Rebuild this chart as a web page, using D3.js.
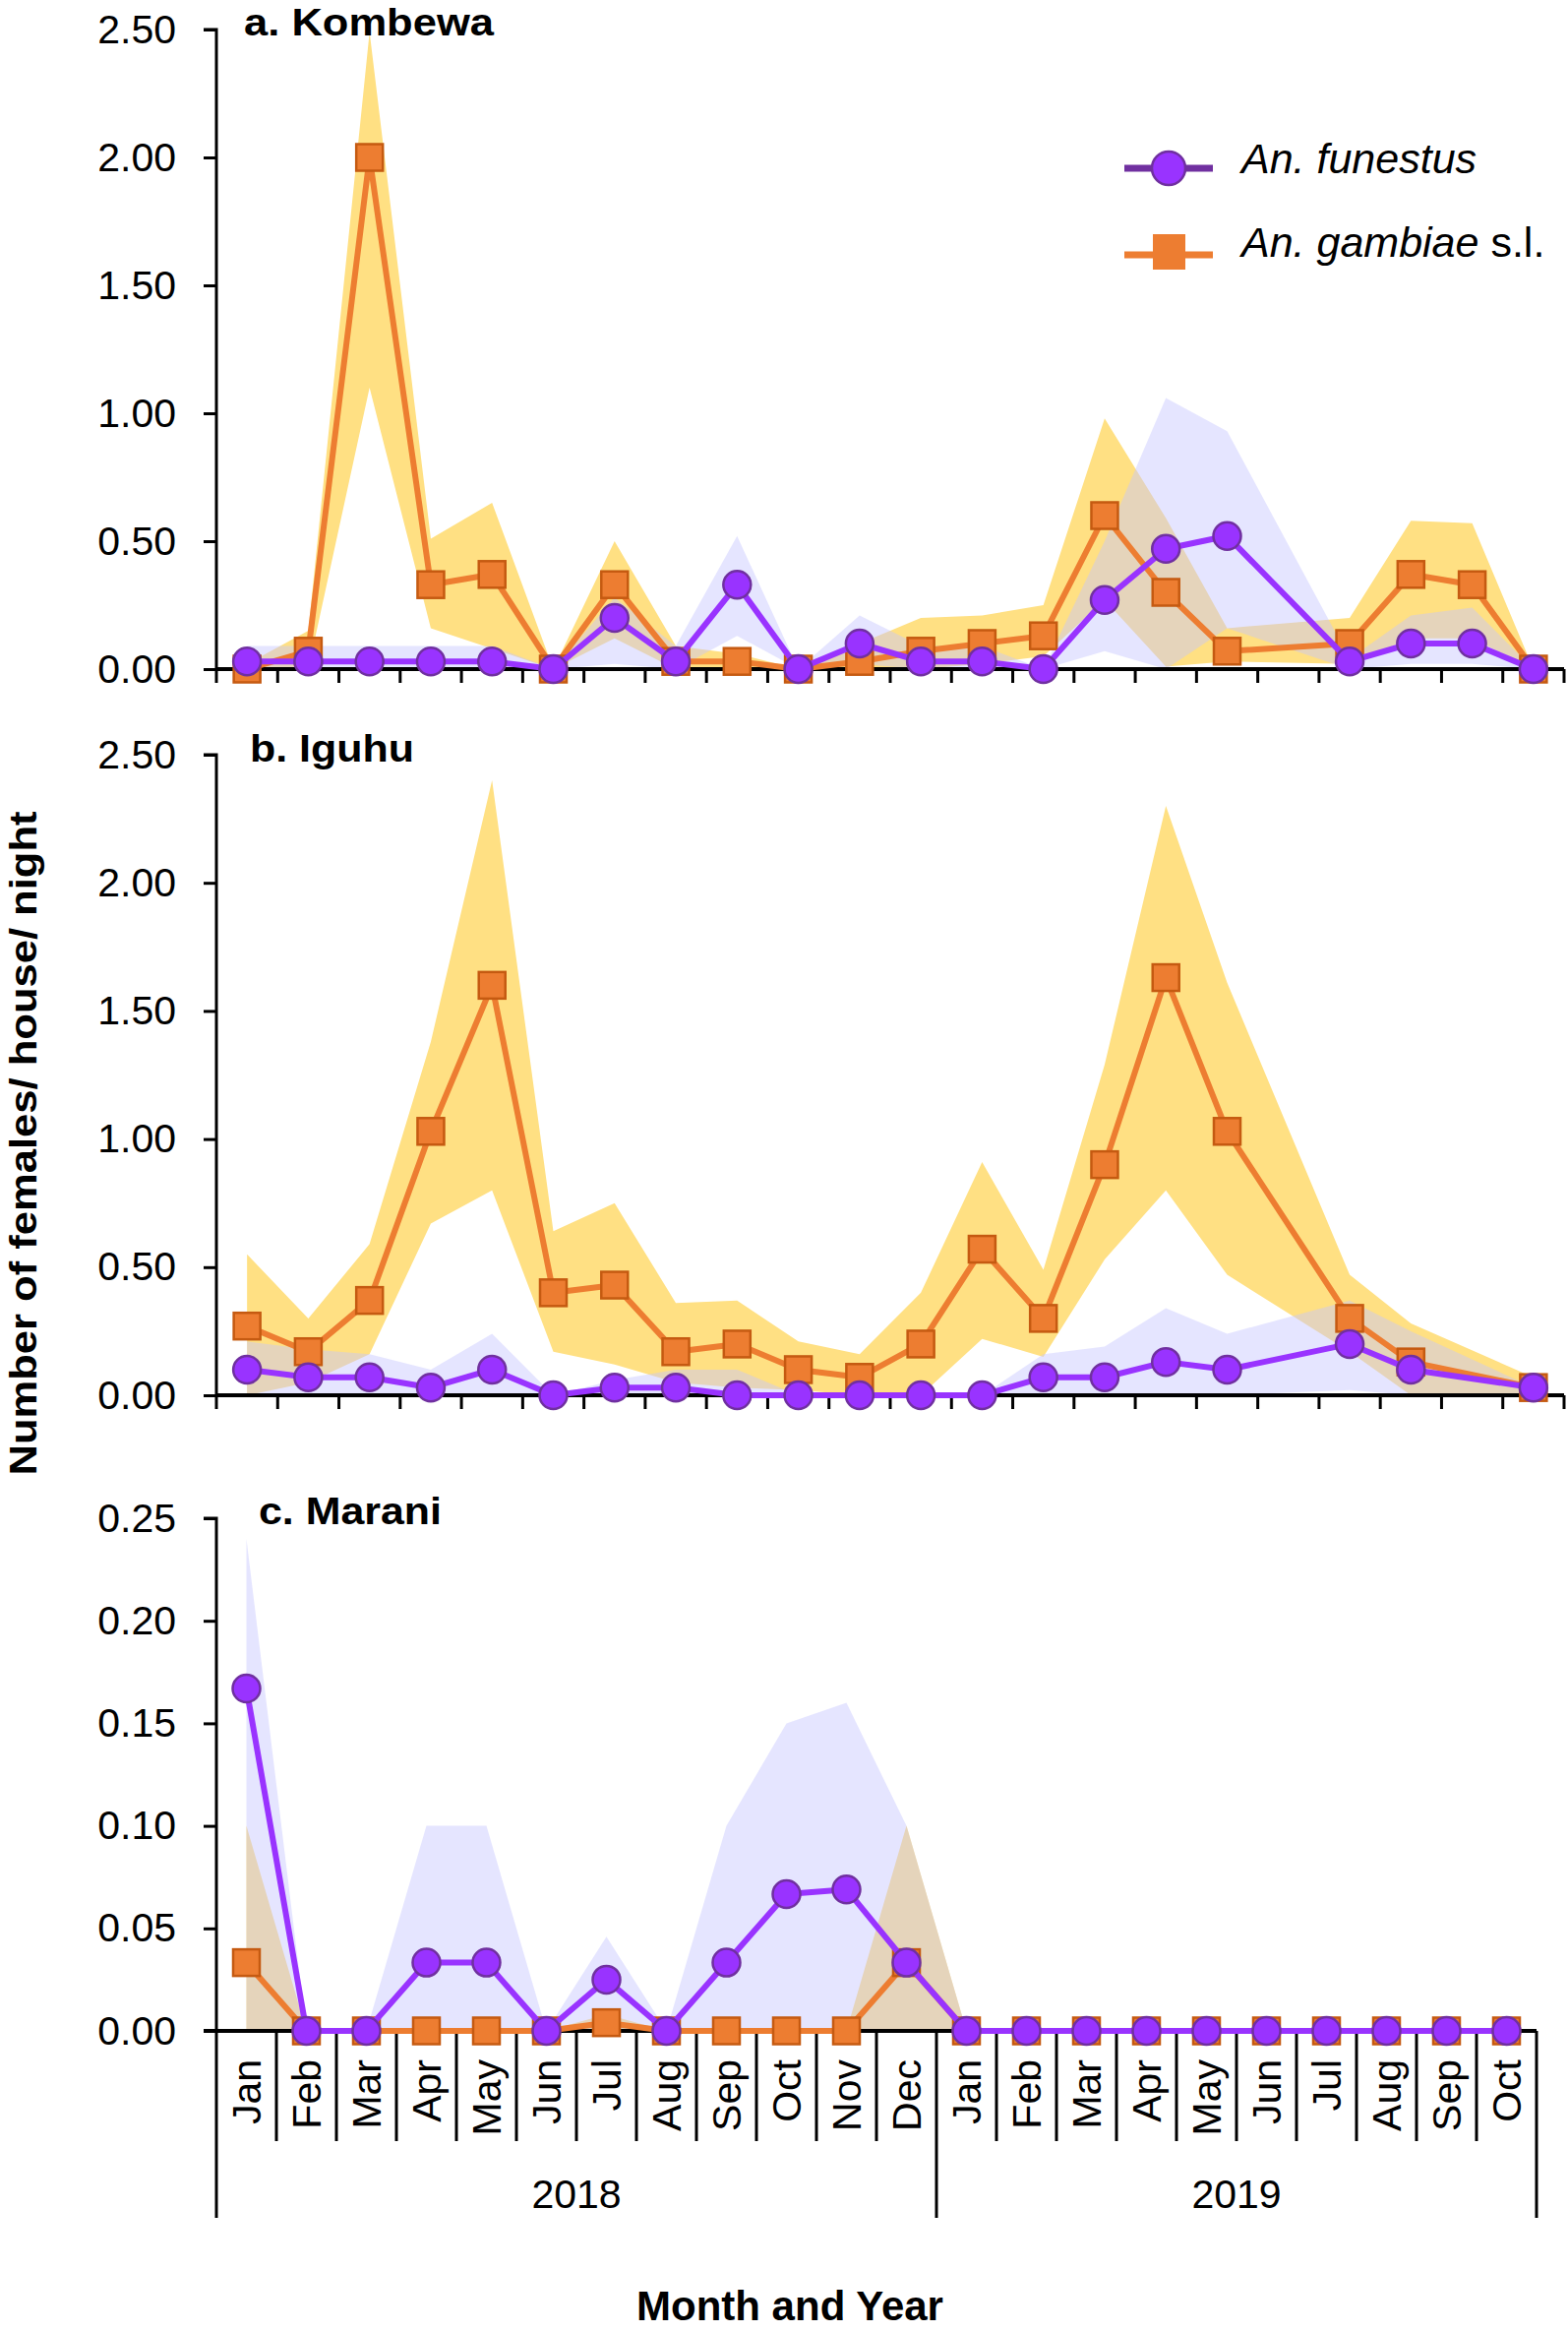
<!DOCTYPE html>
<html>
<head>
<meta charset="utf-8">
<script src="https://cdn.jsdelivr.net/npm/d3@7"></script>
<style>
  html, body { margin: 0; padding: 0; background: #fff; }
  svg { display: block; }
  text { font-family: "Liberation Sans", Arial, sans-serif; fill: #000; }
</style>
</head>
<body>
<svg id="chart" width="1594" height="2370"></svg>
<script>
// ---------------- DATA ----------------
const months = ["Jan","Feb","Mar","Apr","May","Jun","Jul","Aug","Sep","Oct","Nov","Dec",
                "Jan","Feb","Mar","Apr","May","Jun","Jul","Aug","Sep","Oct"];
const years = ["2018", "2019"];
const yearStart = [0, 12];
const yearEnd = [12, 22];

const seriesNames = ["An. funestus", "An. gambiae"];

// a. Kombewa
const funA    = [0.03,0.03,0.03,0.03,0.03,0,0.20,0.03,0.33,0,0.10,0.03,0.03,0,0.27,0.47,0.52,null,0.03,0.10,0.10,0];
const funA_lo = [0,0,0,0,0,0,0.02,0,0.13,0,0.02,0,0,0,0.07,0,0.16,null,0,0.02,0.02,0];
const funA_hi = [0.09,0.09,0.09,0.09,0.09,0,0.28,0.09,0.52,0,0.21,0.09,0.09,0,0.50,1.06,0.93,null,0.04,0.21,0.24,0];
const gamA    = [0,0.07,2.00,0.33,0.37,0,0.33,0.03,0.03,0,0.03,0.07,0.10,0.13,0.60,0.30,0.07,null,0.10,0.37,0.33,0];
const gamA_lo = [0,0,1.10,0.16,0.08,0,0.12,0,0,0,0,0,0.02,0.05,0.27,0.01,0.03,null,0.02,0.12,0.12,0];
const gamA_hi = [0.02,0.15,2.49,0.51,0.65,0,0.50,0.09,0.06,0,0.10,0.20,0.21,0.25,0.98,0.59,0.16,null,0.20,0.58,0.57,0];

// b. Iguhu
const funB    = [0.10,0.07,0.07,0.03,0.10,0,0.03,0.03,0,0,0,0,0,0.07,0.07,0.13,0.10,null,0.20,0.10,null,0.03];
const funB_lo = [0,0,0,0,0,0,0,0,0,0,0,0,0,0,0,0,0,null,0.02,0,null,0];
const funB_hi = [0.21,0.18,0.16,0.10,0.24,0,0.06,0.10,0.10,0,0,0,0,0.16,0.19,0.34,0.24,null,0.37,0.25,null,0.03];
const gamB    = [0.27,0.17,0.37,1.03,1.60,0.40,0.43,0.17,0.20,0.10,0.07,0.20,0.57,0.30,0.90,1.63,1.03,null,0.30,0.13,null,0.03];
const gamB_lo = [0,0.05,0.16,0.67,0.80,0.17,0.12,0.05,0.03,0.02,0,0,0.22,0.15,0.53,0.80,0.47,null,0.17,0,null,0];
const gamB_hi = [0.55,0.30,0.59,1.38,2.40,0.64,0.75,0.36,0.37,0.21,0.16,0.40,0.91,0.49,1.29,2.30,1.61,null,0.47,0.28,null,0.07];

// c. Marani
const funC    = [0.167,0,0,0.0333,0.0333,0,0.025,0,0.0333,0.0667,0.069,0.0333,0,0,0,0,0,0,0,0,0,0];
const funC_lo = [0,0,0,0,0,0,0,0,0,0,0,0,0,0,0,0,0,0,0,0,0,0];
const funC_hi = [0.24,0,0,0.10,0.10,0,0.046,0,0.10,0.15,0.16,0.10,0,0,0,0,0,0,0,0,0,0];
const gamC    = [0.0333,0,0,0,0,0,0.004,0,0,0,0,0.0333,0,0,0,0,0,0,0,0,0,0];
const gamC_lo = [0,0,0,0,0,0,0,0,0,0,0,0,0,0,0,0,0,0,0,0,0,0];
const gamC_hi = [0.10,0,0,0,0,0,0.008,0,0,0,0,0.10,0,0,0,0,0,0,0,0,0,0];

const yTicksAB = [0, 0.5, 1.0, 1.5, 2.0, 2.5];
const yTicksC  = [0, 0.05, 0.10, 0.15, 0.20, 0.25];

// ---------------- STYLE ----------------
const C = {
  orange: "#ED7D31", orangeDark: "#C55A11",
  purple: "#9933FF", purpleDark: "#7030A0",
  yellowBand: "#FFE083",
  lavBand: "rgb(197,197,255)", lavOpacity: 0.45
};

const svg = d3.select("#chart");
const idx = d3.range(months.length);

function drawPanel(cfg) {
  const x = d3.scaleBand().domain(idx).range(cfg.xRange);
  const y = d3.scaleLinear().domain(cfg.yDomain).range(cfg.yRange);
  const cx = i => x(i) + x.bandwidth() / 2;
  const g = svg.append("g");

  const pts = (v, lo, hi) => idx.filter(i => v[i] !== null)
      .map(i => ({ i, v: v[i], lo: lo[i], hi: hi[i] }));
  const fun = pts(cfg.fun, cfg.funLo, cfg.funHi);
  const gam = pts(cfg.gam, cfg.gamLo, cfg.gamHi);

  const area = d3.area().x(d => cx(d.i)).y0(d => y(d.lo)).y1(d => y(d.hi));
  const line = d3.line().x(d => cx(d.i)).y(d => y(d.v));

  // bands
  g.append("path").datum(gam).attr("d", area).attr("fill", C.yellowBand);
  g.append("path").datum(fun).attr("d", area).attr("fill", C.lavBand).attr("fill-opacity", C.lavOpacity);

  // y axis
  const yAxis = d3.axisLeft(y).tickValues(cfg.yTicks).tickFormat(d3.format(".2f"))
      .tickSize(13).tickPadding(28);
  const ya = g.append("g").attr("transform", `translate(${cfg.xRange[0]},0)`).call(yAxis);
  ya.select(".domain").attr("stroke", "#000").attr("stroke-width", 3)
    .attr("d", `M-13,${y(cfg.yDomain[1])}H0V${y(0)}`);
  ya.selectAll(".tick line").attr("stroke", "#000").attr("stroke-width", 3);
  ya.selectAll(".tick text").attr("font-size", 41).attr("font-family", "Liberation Sans, Arial, sans-serif")
    .attr("fill", "#000");

  // x axis
  const y0 = y(0);
  if (!cfg.monthLabels) {
    const bounds = d3.range(months.length + 1).map(k => cfg.xRange[0] + k * x.bandwidth());
    const xa = g.append("g");
    xa.append("line").attr("x1", cfg.xRange[0]).attr("x2", cfg.xRange[1])
      .attr("y1", y0).attr("y2", y0).attr("stroke", "#000").attr("stroke-width", 4);
    xa.selectAll("line.tk").data(bounds).join("line").attr("class", "tk")
      .attr("x1", d => d).attr("x2", d => d).attr("y1", y0).attr("y2", y0 + 14)
      .attr("stroke", "#000").attr("stroke-width", 3);
  } else {
    const bw = x.bandwidth();
    const bounds = d3.range(months.length + 1);
    const xa = g.append("g");
    xa.append("line").attr("x1", cfg.xRange[0] - 13).attr("x2", cfg.xRange[1])
      .attr("y1", y0).attr("y2", y0).attr("stroke", "#000").attr("stroke-width", 4);
    const isYear = k => yearStart.includes(k) || k === months.length;
    xa.selectAll("line.sep").data(bounds).join("line").attr("class", "sep")
      .attr("x1", k => cfg.xRange[0] + k * bw).attr("x2", k => cfg.xRange[0] + k * bw)
      .attr("y1", y0).attr("y2", k => isYear(k) ? 2254 : 2176)
      .attr("stroke", "#000").attr("stroke-width", 3);
    xa.selectAll("text.mon").data(idx).join("text").attr("class", "mon")
      .attr("transform", i => `translate(${cx(i)},2093) rotate(-90)`)
      .attr("text-anchor", "end").attr("dy", "0.36em")
      .attr("font-size", 41).text(i => months[i]);
    xa.selectAll("text.yr").data(years).join("text").attr("class", "yr")
      .attr("x", (d, j) => cfg.xRange[0] + (yearStart[j] + yearEnd[j]) / 2 * bw)
      .attr("y", 2244).attr("text-anchor", "middle").attr("font-size", 41).text(d => d);
  }

  // gambiae line + squares
  g.append("path").datum(gam).attr("d", line).attr("fill", "none")
    .attr("stroke", C.orange).attr("stroke-width", 6).attr("stroke-linejoin", "round");
  const s = 27;
  g.selectAll("rect.gm").data(gam).join("rect").attr("class", "gm")
    .attr("x", d => cx(d.i) - s / 2).attr("y", d => y(d.v) - s / 2)
    .attr("width", s).attr("height", s)
    .attr("fill", C.orange).attr("stroke", C.orangeDark).attr("stroke-width", 2.5);

  // funestus line + circles
  g.append("path").datum(fun).attr("d", line).attr("fill", "none")
    .attr("stroke", C.purple).attr("stroke-width", 6).attr("stroke-linejoin", "round");
  g.selectAll("circle.fn").data(fun).join("circle").attr("class", "fn")
    .attr("cx", d => cx(d.i)).attr("cy", d => y(d.v)).attr("r", 14)
    .attr("fill", C.purple).attr("stroke", C.purpleDark).attr("stroke-width", 2.5);

  // title
  g.append("text").attr("x", cfg.titleX).attr("y", cfg.titleY)
    .attr("font-size", 39).attr("font-weight", "bold")
    .attr("textLength", cfg.titleLen).attr("lengthAdjust", "spacingAndGlyphs")
    .text(cfg.title);
}

drawPanel({
  title: "a. Kombewa", titleX: 248, titleY: 36, titleLen: 254,
  xRange: [220, 1590], yDomain: [0, 2.5], yRange: [680, 30], yTicks: yTicksAB,
  fun: funA, funLo: funA_lo, funHi: funA_hi, gam: gamA, gamLo: gamA_lo, gamHi: gamA_hi
});
drawPanel({
  title: "b. Iguhu", titleX: 254, titleY: 774, titleLen: 167,
  xRange: [220, 1590], yDomain: [0, 2.5], yRange: [1418, 767], yTicks: yTicksAB,
  fun: funB, funLo: funB_lo, funHi: funB_hi, gam: gamB, gamLo: gamB_lo, gamHi: gamB_hi
});
drawPanel({
  title: "c. Marani", titleX: 263, titleY: 1549, titleLen: 186,
  xRange: [220, 1562], yDomain: [0, 0.25], yRange: [2064, 1543], yTicks: yTicksC,
  fun: funC, funLo: funC_lo, funHi: funC_hi, gam: gamC, gamLo: gamC_lo, gamHi: gamC_hi,
  monthLabels: true
});

// legend
const leg = svg.append("g");
leg.append("line").attr("x1", 1143).attr("x2", 1233).attr("y1", 171).attr("y2", 171)
  .attr("stroke", C.purpleDark).attr("stroke-width", 7);
leg.append("circle").attr("cx", 1188).attr("cy", 171).attr("r", 17)
  .attr("fill", C.purple).attr("stroke", C.purpleDark).attr("stroke-width", 2.5);
leg.append("text").attr("x", 1262).attr("y", 176).attr("font-size", 43)
  .attr("font-style", "italic").text(seriesNames[0]);
leg.append("line").attr("x1", 1143).attr("x2", 1233).attr("y1", 259).attr("y2", 259)
  .attr("stroke", C.orange).attr("stroke-width", 7);
leg.append("rect").attr("x", 1172).attr("y", 238).attr("width", 33).attr("height", 36)
  .attr("fill", C.orange);
const lt = leg.append("text").attr("x", 1262).attr("y", 261).attr("font-size", 43);
lt.append("tspan").attr("font-style", "italic").text(seriesNames[1]);
lt.append("tspan").text(" s.l.");

// axis titles
svg.append("text").attr("transform", "translate(37,1162) rotate(-90)")
  .attr("text-anchor", "middle").attr("font-size", 39).attr("font-weight", "bold")
  .attr("textLength", 675).attr("lengthAdjust", "spacingAndGlyphs")
  .text("Number of females/ house/ night");
svg.append("text").attr("x", 803).attr("y", 2358).attr("text-anchor", "middle")
  .attr("font-size", 42).attr("font-weight", "bold").text("Month and Year");
</script>
</body>
</html>
